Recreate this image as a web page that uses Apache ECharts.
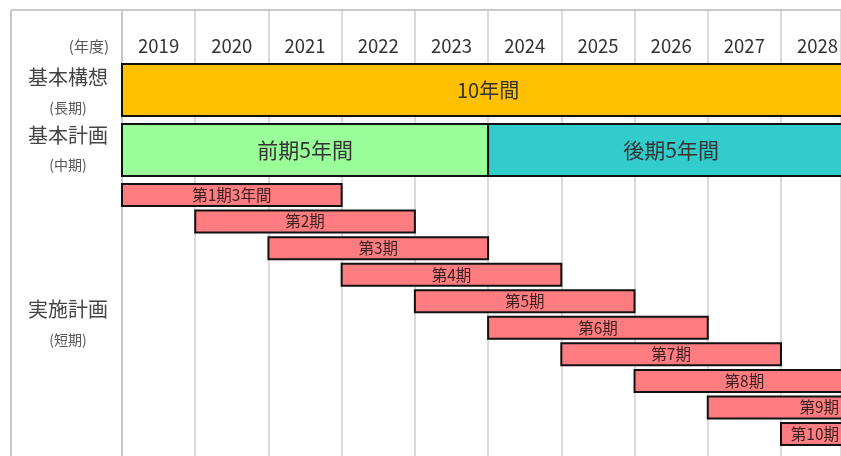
<!DOCTYPE html>
<html>
<head>
<meta charset="utf-8">
<script src="https://cdn.jsdelivr.net/npm/echarts@6/dist/echarts.min.js"></script>
<style>
html,body{margin:0;padding:0;background:#fff;}
#chart{width:841px;height:456px;}
</style>
</head>
<body>
<div id="chart"></div>
<script>
// ---- data ----
const years = [2019, 2020, 2021, 2022, 2023, 2024, 2025, 2026, 2027, 2028];
const longTermLabel = ['10年間'];
const longTermStart = [2019];
const longTermEnd = [2029];
const midTermLabel = ['前期5年間', '後期5年間'];
const midTermStart = [2019, 2024];
const midTermEnd = [2024, 2029];
const shortTermLabel = ['第1期3年間', '第2期', '第3期', '第4期', '第5期', '第6期', '第7期', '第8期', '第9期', '第10期'];
const shortTermStart = [2019, 2020, 2021, 2022, 2023, 2024, 2025, 2026, 2027, 2028];
const shortTermEnd = [2022, 2023, 2024, 2025, 2026, 2027, 2028, 2029, 2030, 2031];
const rowTitles = [['基本構想', '(長期)'], ['基本計画', '(中期)'], ['実施計画', '(短期)']];
const unitLabel = '(年度)';

// ---- layout constants ----
const W = 841;
const LANE_HEADER = 1.36, LANE_LONG = 3.01, LANE_MID = 5.27, LANE_SHORT0 = 6.97;
const BIG_H = 1.96, SMALL_H = 0.83;
const FONT = '"Noto Sans CJK JP", "Noto Sans", sans-serif';

const chart = echarts.init(document.getElementById('chart'));

function barRenderer(laneFn, h, fontSize, textColor) {
  return function (params, api) {
    const lane = laneFn(params.dataIndex);
    const p0 = api.coord([api.value(0), lane]);
    const p1 = api.coord([api.value(1), lane]);
    const hp = api.size([0, h])[1];
    let cx = (p0[0] + p1[0]) / 2;
    let align = 'center';
    if (cx + fontSize * 1.7 > W) { cx = W - 2; align = 'right'; }
    return {
      type: 'group',
      children: [
        { type: 'rect', shape: { x: p0[0], y: p0[1] - hp / 2, width: p1[0] - p0[0], height: hp },
          style: { fill: api.value(3), stroke: '#111', lineWidth: 2 } },
        { type: 'text', x: cx, y: p0[1],
          style: { text: api.value(2), fill: textColor, font: fontSize + 'px ' + FONT, align: align, verticalAlign: 'middle' } }
      ]
    };
  };
}

const longData = longTermLabel.map((t, i) => [longTermStart[i], longTermEnd[i], t, '#FFC000']);
const midColors = ['#99FF99', '#33CCCC'];
const midData = midTermLabel.map((t, i) => [midTermStart[i], midTermEnd[i], t, midColors[i]]);
const shortData = shortTermLabel.map((t, i) => [shortTermStart[i], shortTermEnd[i], t, '#FF7C80']);

const titleY = [[77, 108], [135, 165], [309, 340]];
const graphics = [
  { type: 'line', shape: { x1: 11, y1: 10, x2: 11, y2: 456 }, style: { stroke: '#c8c8c8', lineWidth: 2 } },
  { type: 'line', shape: { x1: 11, y1: 10, x2: 122, y2: 10 }, style: { stroke: '#c8c8c8', lineWidth: 2 } },
  { type: 'text', x: 109, y: 46, style: { text: unitLabel, font: '15px ' + FONT, fill: '#555', align: 'right', verticalAlign: 'middle' } }
];
rowTitles.forEach((rt, i) => {
  graphics.push({ type: 'text', x: 68, y: titleY[i][0], style: { text: rt[0], font: '20px ' + FONT, fill: '#444', align: 'center', verticalAlign: 'middle' } });
  graphics.push({ type: 'text', x: 68, y: titleY[i][1], style: { text: rt[1], font: '14px ' + FONT, fill: '#555', align: 'center', verticalAlign: 'middle' } });
});

chart.setOption({
  animation: false,
  backgroundColor: '#fff',
  grid: { left: 122, right: 0, top: 10, bottom: 0 },
  xAxis: {
    type: 'value', min: 2019, max: 2019 + (W - 122) / 73.22, interval: 1, position: 'top',
    axisLine: { show: true, lineStyle: { color: '#c8c8c8', width: 2 } },
    axisTick: { show: false }, axisLabel: { show: false },
    splitLine: { show: true, lineStyle: { color: '#dadada', width: 2 } }
  },
  yAxis: {
    type: 'value', min: 0, max: 446 / 26.55, inverse: true,
    axisLine: { show: true, onZero: false, lineStyle: { color: '#c8c8c8', width: 2 } },
    axisTick: { show: false }, axisLabel: { show: false }, splitLine: { show: false }
  },
  graphic: graphics,
  series: [
    {
      type: 'custom', clip: false, silent: true,
      data: years.map(y => [y]),
      renderItem: function (params, api) {
        const p = api.coord([api.value(0) + 0.5, LANE_HEADER]);
        return { type: 'text', x: p[0], y: p[1], style: { text: String(api.value(0)), font: '18.5px ' + FONT, fill: '#333', align: 'center', verticalAlign: 'middle' } };
      }
    },
    { type: 'custom', clip: false, silent: true, data: longData, renderItem: barRenderer(() => LANE_LONG, BIG_H, 20, '#333') },
    { type: 'custom', clip: false, silent: true, data: midData, renderItem: barRenderer(() => LANE_MID, BIG_H, 21, '#333') },
    { type: 'custom', clip: false, silent: true, data: shortData, renderItem: barRenderer(i => LANE_SHORT0 + i, SMALL_H, 15.5, '#3a2222') }
  ]
});
</script>
</body>
</html>
